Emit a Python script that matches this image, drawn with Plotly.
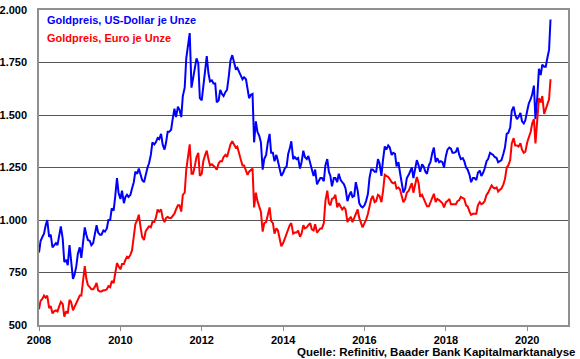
import pandas as pd
import plotly.graph_objects as go

# Semi-monthly readings (1st and 15th of each month), Jan 2008 .. Jul 2020, plus final point end of July 2020
usd_2008 = [845, 900, 920, 935, 975, 1000, 920, 930, 870, 880, 890, 880, 930, 970, 910, 800, 810, 785, 880, 820, 720, 740, 780, 840]
usd_2009 = [870, 820, 910, 965, 930, 905, 900, 880, 890, 930, 975, 940, 930, 930, 950, 945, 960, 1000, 1000, 1055, 1045, 1110, 1200, 1130]
usd_2010 = [1100, 1140, 1080, 1110, 1120, 1110, 1120, 1150, 1180, 1230, 1220, 1245, 1210, 1190, 1180, 1220, 1250, 1270, 1310, 1370, 1360, 1370, 1390, 1385]
usd_2011 = [1410, 1360, 1335, 1370, 1420, 1420, 1430, 1480, 1530, 1490, 1540, 1525, 1490, 1590, 1630, 1770, 1830, 1890, 1630, 1680, 1720, 1770, 1745, 1580]
usd_2012 = [1570, 1640, 1730, 1780, 1700, 1660, 1665, 1650, 1650, 1560, 1570, 1620, 1600, 1590, 1610, 1620, 1690, 1760, 1785, 1760, 1720, 1725, 1710, 1690]
usd_2013 = [1670, 1680, 1670, 1620, 1580, 1595, 1600, 1370, 1470, 1420, 1400, 1370, 1240, 1290, 1310, 1365, 1410, 1320, 1320, 1280, 1310, 1280, 1240, 1210]
usd_2014 = [1225, 1245, 1255, 1315, 1340, 1375, 1290, 1300, 1290, 1295, 1245, 1275, 1330, 1300, 1290, 1305, 1270, 1235, 1210, 1240, 1170, 1185, 1200, 1200]
usd_2015 = [1185, 1260, 1290, 1230, 1210, 1160, 1200, 1200, 1180, 1220, 1190, 1180, 1170, 1150, 1090, 1115, 1135, 1110, 1115, 1180, 1140, 1080, 1065, 1060]
usd_2016 = [1070, 1090, 1125, 1200, 1240, 1240, 1230, 1230, 1290, 1270, 1210, 1285, 1350, 1335, 1355, 1345, 1310, 1320, 1315, 1255, 1275, 1225, 1170, 1130]
usd_2017 = [1150, 1200, 1215, 1235, 1250, 1200, 1250, 1285, 1260, 1230, 1265, 1255, 1230, 1220, 1260, 1275, 1320, 1345, 1275, 1295, 1275, 1280, 1275, 1250]
usd_2018 = [1305, 1335, 1345, 1340, 1320, 1320, 1325, 1345, 1310, 1290, 1295, 1280, 1250, 1240, 1215, 1180, 1200, 1200, 1190, 1225, 1235, 1210, 1225, 1245]
usd_2019 = [1280, 1290, 1320, 1315, 1310, 1300, 1295, 1275, 1280, 1285, 1315, 1345, 1410, 1415, 1440, 1520, 1540, 1500, 1480, 1490, 1510, 1470, 1460, 1475]
usd_2020 = [1520, 1555, 1575, 1600, 1640, 1480, 1590, 1720, 1690, 1740, 1730, 1730, 1775, 1810, 1955]

eur_2008 = [575, 615, 625, 640, 630, 640, 580, 590, 555, 565, 570, 565, 590, 610, 600, 540, 565, 555, 620, 610, 570, 585, 610, 620]
eur_2009 = [640, 640, 710, 780, 720, 690, 680, 670, 670, 680, 700, 665, 660, 660, 665, 665, 670, 685, 680, 710, 700, 740, 795, 780]
eur_2010 = [765, 790, 790, 810, 825, 820, 835, 855, 935, 980, 1000, 1025, 965, 920, 905, 945, 960, 970, 965, 990, 990, 1010, 1050, 1040]
eur_2011 = [1050, 1010, 990, 1010, 1015, 1010, 1010, 1020, 1030, 1050, 1070, 1070, 1040, 1120, 1130, 1240, 1300, 1360, 1220, 1220, 1260, 1300, 1320, 1210]
eur_2012 = [1220, 1280, 1310, 1330, 1290, 1260, 1265, 1260, 1250, 1240, 1270, 1280, 1280, 1300, 1310, 1300, 1330, 1360, 1375, 1360, 1345, 1350, 1310, 1290]
eur_2013 = [1260, 1260, 1235, 1215, 1230, 1235, 1245, 1060, 1130, 1090, 1060, 1040, 945, 985, 990, 1020, 1060, 995, 985, 935, 960, 950, 905, 875]
eur_2014 = [890, 910, 930, 960, 975, 985, 935, 940, 940, 950, 920, 935, 975, 960, 965, 975, 985, 955, 950, 980, 940, 950, 960, 960]
eur_2015 = [985, 1090, 1140, 1080, 1070, 1100, 1105, 1120, 1060, 1080, 1060, 1050, 1060, 1050, 990, 1005, 1015, 990, 1010, 1030, 1050, 1010, 980, 965]
eur_2016 = [985, 1000, 1030, 1070, 1100, 1115, 1085, 1090, 1120, 1115, 1085, 1135, 1215, 1210, 1205, 1195, 1180, 1175, 1180, 1150, 1155, 1145, 1105, 1085]
eur_2017 = [1100, 1130, 1140, 1160, 1175, 1130, 1170, 1205, 1175, 1110, 1120, 1100, 1080, 1065, 1065, 1085, 1105, 1125, 1085, 1100, 1095, 1090, 1080, 1060]
eur_2018 = [1085, 1090, 1100, 1075, 1075, 1075, 1075, 1090, 1095, 1110, 1105, 1100, 1070, 1065, 1040, 1025, 1030, 1030, 1030, 1070, 1085, 1075, 1080, 1090]
eur_2019 = [1120, 1130, 1150, 1165, 1155, 1150, 1155, 1135, 1145, 1150, 1170, 1195, 1250, 1260, 1285, 1365, 1390, 1355, 1355, 1350, 1365, 1335, 1320, 1325]
eur_2020 = [1370, 1395, 1420, 1460, 1480, 1365, 1465, 1580, 1560, 1590, 1505, 1530, 1560, 1575, 1670]

usd_values = (usd_2008 + usd_2009 + usd_2010 + usd_2011 + usd_2012 + usd_2013 + usd_2014
              + usd_2015 + usd_2016 + usd_2017 + usd_2018 + usd_2019 + usd_2020)
eur_values = (eur_2008 + eur_2009 + eur_2010 + eur_2011 + eur_2012 + eur_2013 + eur_2014
              + eur_2015 + eur_2016 + eur_2017 + eur_2018 + eur_2019 + eur_2020)

dates = list(pd.date_range("2008-01-01", "2020-07-15", freq="SMS")) + [pd.Timestamp("2020-07-28")]

series_names = ["Goldpreis, US-Dollar je Unze", "Goldpreis, Euro je Unze"]
series_colors = ["#0000FF", "#FF0000"]
x_tick_years = [2008, 2010, 2012, 2014, 2016, 2018, 2020]
y_ticks = [500, 750, 1000, 1250, 1500, 1750, 2000]
source_text = "Quelle: Refinitiv, Baader Bank Kapitalmarktanalyse"

FONT = "Arial, Liberation Sans, sans-serif"


def de_format(v):
    return f"{v:,d}".replace(",", ".")


fig = go.Figure()
for name, vals, col in zip(series_names, [usd_values, eur_values], series_colors):
    fig.add_trace(go.Scatter(x=dates, y=vals, mode="lines", name=name,
                             line=dict(color=col, width=2), showlegend=False))

fig.update_layout(
    width=580, height=359,
    margin=dict(l=39, r=12, t=10, b=34, autoexpand=False),
    paper_bgcolor="white", plot_bgcolor="white",
    font=dict(family=FONT, size=11, color="black"),
)

fig.update_xaxes(
    type="date",
    range=["2008-01-01", "2021-01-01"],
    tickvals=[f"{y}-01-01" for y in x_tick_years],
    ticktext=[f"<b>{y}</b>" for y in x_tick_years],
    ticks="outside", ticklen=4, tickcolor="#909090",
    showgrid=False, zeroline=False, automargin=False,
    showline=True, linecolor="#909090", linewidth=1.5, mirror=True,
    tickfont=dict(family=FONT, size=11, color="black"),
)
fig.update_yaxes(
    range=[500, 2000],
    tickvals=y_ticks,
    ticktext=[f"<b>{de_format(v)}</b>" for v in y_ticks],
    ticks="outside", ticklen=0, ticklabelstandoff=8,
    showgrid=True, gridcolor="#555555", gridwidth=1,
    zeroline=False, automargin=False,
    showline=True, linecolor="#909090", linewidth=1.5, mirror=True,
    tickfont=dict(family=FONT, size=11, color="black"),
)

fig.add_annotation(xref="paper", yref="paper", x=0.011, y=0.968, xanchor="left", yanchor="middle",
                   text=f"<b>{series_names[0]}</b>", showarrow=False,
                   font=dict(family=FONT, size=11, color=series_colors[0]))
fig.add_annotation(xref="paper", yref="paper", x=0.011, y=0.911, xanchor="left", yanchor="middle",
                   text=f"<b>{series_names[1]}</b>", showarrow=False,
                   font=dict(family=FONT, size=11, color=series_colors[1]))
fig.add_annotation(xref="paper", yref="paper", x=1.017, y=-0.086, xanchor="right", yanchor="middle",
                   text=f"<b>{source_text}</b>", showarrow=False,
                   font=dict(family=FONT, size=11.5, color="black"))

fig.write_html("out.html", config={"displayModeBar": False},
               post_script="document.body.style.margin='0';document.body.style.overflow='hidden';")
